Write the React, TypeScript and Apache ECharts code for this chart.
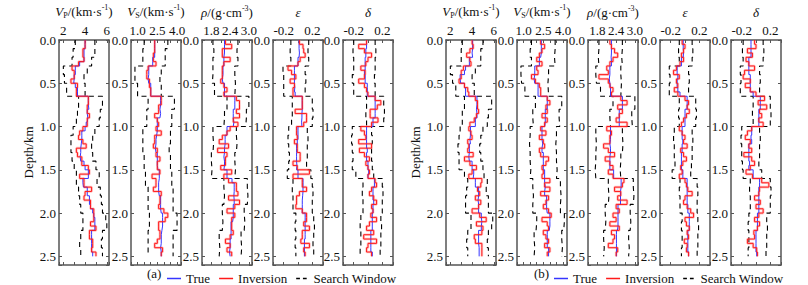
import React, { useEffect, useRef } from 'react';
import * as echarts from 'echarts';

// Layer boundaries (km)
const DEPTH = [0,0.05,0.1,0.15,0.2,0.25,0.3,0.35,0.4,0.45,0.5,0.55,0.6,0.65,0.7,0.75,0.8,0.85,0.9,0.95,1,1.05,1.1,1.15,1.2,1.25,1.3,1.35,1.4,1.45,1.5,1.55,1.6,1.65,1.7,1.75,1.8,1.85,1.9,1.95,2,2.05,2.1,2.15,2.2,2.25,2.3,2.35,2.4,2.45,2.5];
const WIN_DEPTH = [0,0.1,0.2,0.3,0.4,0.5,0.65,0.8,0.9,1.0,1.1,1.2,1.3,1.4,1.5,1.6,1.7,1.8,1.9,2.0,2.1,2.2,2.3,2.4,2.5];

// ---- (a) ----
const VP_A_TRUE = [4.0,4.0,3.9,3.9,3.9,3.5,3.1,3.1,3.0,2.95,3.1,3.3,3.3,4.3,4.3,4.35,4.2,4.25,4.2,4.1,4.0,3.7,3.7,3.65,3.6,3.6,3.55,3.6,3.9,4.0,4.3,4.3,3.8,3.85,4.2,4.2,4.4,4.4,4.5,4.7,4.8,4.9,4.9,4.9,4.6,4.6,4.6,4.6,4.6,4.7];
const VP_A_INV = [4.0,4.0,3.8,3.8,3.9,3.4,2.8,3.0,3.0,2.7,3.3,3.2,3.2,4.3,4.3,4.2,4.2,4.4,4.2,4.2,3.8,3.5,3.4,3.8,4.1,3.2,3.3,3.7,3.7,4.3,4.4,3.5,3.9,3.9,4.6,4.0,3.9,4.5,4.5,4.8,4.8,4.8,4.5,5.0,4.4,4.4,4.7,4.7,4.6,5.0];
const VP_A_LO = [3.1,2.9,2.8,2.0,2.1,2.3,3.4,3.3,3.2,2.9,2.7,2.7,2.8,3.0,3.2,3.2,3.4,3.5,3.6,3.8,3.8,3.6,3.5,3.6];
const VP_A_HI = [4.9,4.9,4.6,4.2,3.9,4.0,5.6,5.4,5.3,4.9,4.7,4.6,4.7,5.0,5.3,5.1,5.4,5.5,5.6,5.9,6.0,5.6,5.5,5.6];

const VS_A_TRUE = [2.3,2.3,2.3,2.3,2.15,2.15,1.85,1.85,1.8,1.85,2.0,2.0,2.0,2.75,2.75,2.7,2.75,2.7,2.5,2.5,2.5,2.45,2.4,2.4,2.35,2.4,2.5,2.5,2.5,2.55,2.65,2.65,2.6,2.6,2.6,2.65,2.75,2.75,2.75,2.8,2.9,2.9,2.9,2.85,2.8,2.8,2.8,2.75,2.8,2.8];
const VS_A_INV = [2.3,2.3,2.3,2.2,2.2,2.4,1.8,1.7,1.7,1.9,1.9,2.0,2.0,2.8,2.8,2.6,2.6,2.3,2.5,2.6,2.4,2.8,2.3,2.3,2.2,2.5,2.4,2.7,2.5,2.5,2.7,2.1,2.4,2.4,2.2,2.8,2.7,2.7,2.6,3.0,3.3,3.1,2.6,2.6,2.7,2.7,2.5,2.3,2.9,2.8];
const VS_A_LO = [1.5,1.4,1.4,0.8,0.8,1.0,1.8,1.7,1.7,1.4,1.4,1.4,1.5,1.5,1.6,1.6,1.8,1.8,1.8,1.9,1.9,1.8,1.8,1.8];
const VS_A_HI = [3.3,3.1,3.1,2.8,2.7,2.8,3.8,3.6,3.6,3.5,3.5,3.4,3.5,3.5,3.6,3.6,3.7,3.7,3.7,4.0,4.0,3.7,3.7,3.7];

const RHO_A_TRUE = [2.22,2.22,2.22,2.2,2.2,2.2,2.17,2.17,2.15,2.17,2.22,2.22,2.22,2.55,2.55,2.55,2.5,2.5,2.52,2.5,2.3,2.3,2.24,2.24,2.22,2.22,2.2,2.22,2.22,2.2,2.3,2.3,2.46,2.53,2.53,2.52,2.53,2.53,2.5,2.5,2.5,2.48,2.43,2.43,2.43,2.43,2.4,2.4,2.38,2.4];
const RHO_A_INV = [2.25,2.45,2.15,2.15,2.4,2.2,2.15,2.15,2.15,2.1,2.2,2.3,2.2,2.6,2.7,2.7,2.6,2.7,2.5,2.65,2.4,2.3,2.15,2.05,2.35,2.0,2.3,2.25,2.25,2.1,2.45,2.2,2.35,2.6,2.6,2.65,2.35,2.7,2.55,2.3,2.55,2.45,2.45,2.45,2.5,2.4,2.25,2.4,2.3,2.45];
const RHO_A_LO = [1.85,1.88,1.85,1.85,1.83,1.9,2.3,2.22,2.2,1.85,1.87,1.85,1.8,1.82,1.8,2.2,2.22,2.2,2.15,2.17,2.15,2.05,2.07,2.05];
const RHO_A_HI = [2.65,2.62,2.65,2.55,2.57,2.55,3.0,2.92,2.9,2.6,2.62,2.6,2.55,2.57,2.55,2.95,2.97,2.95,2.85,2.87,2.85,2.75,2.77,2.75];

const EPS_A_TRUE = [0.015,0.015,0.02,0.015,0,0,-0.05,-0.05,-0.05,-0.05,-0.045,-0.05,-0.04,0.06,0.06,0.06,0.055,0.055,0.05,0.055,0,0,0,-0.01,-0.02,-0.02,-0.02,-0.02,-0.015,-0.02,0,0,0.07,0.07,0.07,0.065,0.06,0.06,0.06,0.06,0.1,0.1,0.1,0.1,0.1,0.1,0.09,0.09,0.09,0.09];
const EPS_A_INV = [0.02,0.07,0.08,0.1,0.03,0,-0.14,-0.09,-0.03,-0.11,-0.05,-0.07,-0.07,0.06,0.06,0.06,-0.04,0.12,0.12,0.08,-0.02,-0.02,-0.01,-0.05,-0.01,-0.01,0.03,0.03,-0.07,-0.01,0.16,-0.07,0.06,0.06,0.12,0.02,-0.02,-0.02,-0.03,0.06,0.12,0.12,0.08,0.16,0.06,0.06,0.04,0.16,0.08,0.1];
const EPS_A_LO = [-0.1,-0.11,-0.1,-0.21,-0.2,-0.2,-0.08,-0.08,-0.09,-0.13,-0.14,-0.13,-0.12,-0.13,-0.15,-0.07,-0.08,-0.07,-0.07,-0.03,-0.04,-0.03,-0.04,-0.03];
const EPS_A_HI = [0.15,0.14,0.15,0.1,0.11,0.1,0.2,0.21,0.2,0.13,0.14,0.13,0.13,0.12,0.18,0.2,0.21,0.2,0.2,0.22,0.23,0.22,0.21,0.22];

const DEL_A_TRUE = [-0.02,-0.02,-0.03,-0.03,-0.04,-0.04,-0.04,-0.05,-0.04,-0.04,-0.01,-0.01,-0.01,0.1,0.1,0.1,0.1,0.1,0.07,0.07,-0.02,-0.02,-0.02,-0.02,-0.02,-0.01,-0.02,-0.02,0,0,0.01,0,0.09,0.09,0.07,0.07,0.07,0.08,0.07,0.07,0.06,0.06,0.06,0.06,0.04,0.04,0.04,0.04,0.04,0.06];
const DEL_A_INV = [-0.02,-0.13,-0.05,0.05,0.0,-0.03,-0.1,-0.04,-0.05,-0.13,-0.05,-0.02,0.0,0.1,0.18,0.13,0.03,0.03,0.14,0.05,-0.1,-0.05,-0.03,-0.13,0.05,-0.12,-0.05,0.02,-0.03,0.0,0.02,0.0,0.1,0.12,0.05,0.02,0.08,0.12,0.05,0.07,0.04,0.12,0.02,-0.02,0.08,-0.06,0.12,0.0,-0.02,0.05];
const DEL_A_LO = [-0.2,-0.21,-0.2,-0.2,-0.22,-0.2,-0.02,-0.03,-0.02,-0.22,-0.23,-0.22,-0.21,-0.22,-0.17,-0.07,-0.08,-0.07,-0.07,-0.1,-0.11,-0.1,-0.1,-0.11];
const DEL_A_HI = [0.1,0.11,0.1,0.1,0.09,0.1,0.22,0.23,0.22,0.05,0.06,0.05,0.05,0.06,0.08,0.2,0.21,0.2,0.2,0.18,0.19,0.18,0.18,0.17];

// ---- (b) ----
const VP_B_TRUE = [4.05,4.05,4.0,4.05,3.75,3.75,3.4,3.3,2.9,2.95,3.3,3.4,3.4,4.45,4.45,4.4,4.45,4.45,4.3,4.3,3.85,3.85,3.8,3.85,3.75,3.75,3.7,3.75,4.0,4.0,4.15,4.1,4.3,4.3,4.6,4.6,4.55,4.6,4.6,4.6,4.85,4.9,4.85,4.85,4.6,4.6,4.6,4.65,4.65,4.65];
const VP_B_INV = [4.0,4.1,3.8,3.5,3.8,3.9,3.2,3.0,3.0,2.8,3.3,3.6,3.7,4.3,4.5,4.5,4.6,4.4,4.2,3.8,3.7,3.9,4.0,3.6,3.7,3.6,4.1,3.3,3.8,4.4,4.0,3.7,4.9,4.8,4.5,4.7,4.3,4.8,4.6,4.0,4.7,5.3,4.4,5.0,4.9,4.2,4.3,4.9,4.9,4.9];
const VP_B_LO = [3.1,3.0,3.0,2.0,2.2,2.5,3.3,3.1,3.1,2.9,2.8,2.7,2.8,2.8,3.3,3.6,3.5,3.4,3.4,3.9,3.9,3.6,3.5,3.6];
const VP_B_HI = [5.0,4.8,4.8,4.3,4.0,4.2,5.8,5.5,5.4,5.0,4.8,4.7,4.8,5.0,5.1,5.4,5.3,5.5,5.5,5.9,5.8,5.5,5.4,5.5];

const VS_B_TRUE = [2.35,2.35,2.35,2.3,2.2,2.2,1.85,1.85,1.8,1.85,2.1,2.1,2.1,2.8,2.8,2.8,2.65,2.65,2.65,2.6,2.4,2.4,2.4,2.45,2.4,2.4,2.5,2.5,2.5,2.5,2.6,2.6,2.6,2.65,2.6,2.6,2.75,2.75,2.75,2.8,3.0,3.0,3.0,2.95,2.8,2.8,2.8,2.8,2.9,2.9];
const VS_B_INV = [2.3,2.6,2.4,2.2,2.0,2.4,2.0,2.1,1.6,1.9,2.2,2.3,2.3,2.8,3.0,2.7,2.8,2.4,2.8,2.6,2.3,2.7,2.2,2.5,2.6,2.2,2.3,2.9,2.7,2.4,2.5,2.4,3.0,2.6,3.0,2.3,2.9,2.7,2.5,2.9,3.1,2.4,2.8,2.9,2.5,2.7,2.9,2.6,3.0,2.8];
const VS_B_LO = [1.6,1.5,1.6,0.8,0.85,1.1,1.9,1.7,1.75,1.5,1.45,1.5,1.5,1.55,1.5,1.7,1.75,1.7,1.7,2.0,1.95,1.8,1.85,1.8];
const VS_B_HI = [3.4,3.35,3.4,2.9,2.85,2.9,3.9,3.7,3.75,3.5,3.45,3.5,3.5,3.55,3.5,3.8,3.85,3.8,3.8,4.1,4.05,3.9,3.95,3.9];

const RHO_B_TRUE = [2.25,2.25,2.25,2.24,2.25,2.25,2.2,2.2,2.18,2.2,2.22,2.22,2.22,2.6,2.6,2.6,2.5,2.5,2.5,2.5,2.22,2.22,2.22,2.2,2.22,2.22,2.2,2.2,2.2,2.2,2.32,2.32,2.56,2.56,2.54,2.54,2.54,2.54,2.46,2.46,2.46,2.46,2.46,2.44,2.41,2.41,2.41,2.41,2.41,2.41];
const RHO_B_INV = [2.2,2.25,2.35,2.45,2.3,2.2,2.1,2.15,1.85,2.15,2.2,2.3,2.25,2.55,2.75,2.45,2.6,2.5,2.4,2.75,2.1,2.25,2.2,2.2,2.0,2.15,2.35,2.05,2.2,2.3,2.15,2.3,2.65,2.6,2.35,2.55,2.45,2.75,2.4,2.5,2.3,2.4,2.2,2.5,2.25,2.35,2.3,2.15,2.45,2.4];
const RHO_B_LO = [1.85,1.83,1.85,1.75,1.77,1.9,2.3,2.2,2.22,1.75,1.77,1.75,1.75,1.73,1.75,2.15,2.17,2.15,2.05,2.07,2.05,2.0,2.02,2.0];
const RHO_B_HI = [2.6,2.58,2.6,2.55,2.57,2.55,3.0,2.9,2.92,2.6,2.62,2.6,2.55,2.53,2.55,2.95,2.97,2.95,2.85,2.87,2.85,2.8,2.82,2.8];

const EPS_B_TRUE = [-0.025,-0.025,-0.02,-0.025,-0.05,-0.05,-0.11,-0.11,-0.1,-0.11,-0.11,-0.1,-0.07,0.03,0.03,0.03,0,0,0,0,-0.04,-0.04,-0.04,-0.03,-0.04,-0.04,-0.05,-0.05,-0.05,-0.05,-0.03,-0.03,0.03,0.03,0.03,0.03,0.03,0.03,0.04,0.04,0.06,0.06,0.06,0.06,0.04,0.04,0.04,0.04,0.04,0.05];
const EPS_B_INV = [-0.04,0.0,-0.02,-0.05,-0.02,-0.07,-0.12,-0.16,-0.08,-0.12,-0.1,-0.15,-0.1,0.0,0.05,0.03,0.06,0.02,-0.02,-0.05,-0.08,-0.04,0.0,-0.02,0.03,-0.06,-0.02,0.02,-0.03,-0.06,-0.04,-0.08,0.0,0.02,0.04,0.1,0.0,-0.02,0.03,0.08,0.12,0.0,0.02,0.06,0.03,0.05,-0.01,0.03,0.02,0.05];
const EPS_B_LO = [-0.08,-0.09,-0.08,-0.22,-0.21,-0.22,-0.08,-0.09,-0.08,-0.15,-0.16,-0.15,-0.15,-0.14,-0.18,-0.07,-0.08,-0.07,-0.07,-0.04,-0.05,-0.04,-0.04,-0.05];
const EPS_B_HI = [0.1,0.11,0.1,0.05,0.06,0.05,0.15,0.16,0.15,0.1,0.11,0.1,0.1,0.09,0.08,0.17,0.18,0.17,0.17,0.18,0.19,0.18,0.18,0.17];

const DEL_B_TRUE = [-0.07,-0.07,-0.07,-0.07,-0.1,-0.1,-0.1,-0.1,-0.08,-0.08,-0.08,-0.08,-0.04,0.06,0.06,0.06,0.04,0.04,0.04,0.04,-0.06,-0.06,-0.07,-0.06,-0.1,-0.1,-0.1,-0.1,-0.09,-0.1,-0.04,-0.04,0.05,0.05,0.04,0.04,0.04,0.04,0.04,0.04,0.02,0.02,0.02,0.02,0,0,0,0,0,0.01];
const DEL_B_INV = [-0.02,0.0,-0.12,-0.05,-0.14,-0.1,-0.02,-0.16,-0.18,-0.08,-0.15,-0.08,0.0,0.12,0.03,0.15,0.05,0.08,0.04,0.1,-0.06,-0.12,-0.15,-0.08,-0.1,-0.06,-0.17,-0.06,-0.02,-0.08,-0.14,-0.05,0.08,0.18,0.05,0.04,-0.02,0.06,0.0,0.1,0.04,-0.02,0.05,0.02,-0.03,-0.02,-0.12,-0.04,0.01,0.02];
const DEL_B_LO = [-0.18,-0.19,-0.18,-0.22,-0.21,-0.22,-0.04,-0.05,-0.04,-0.2,-0.21,-0.2,-0.2,-0.19,-0.18,-0.08,-0.09,-0.08,-0.08,-0.1,-0.11,-0.1,-0.1,-0.11];
const DEL_B_HI = [0.1,0.11,0.1,0.05,0.06,0.05,0.2,0.21,0.2,0.05,0.06,0.05,0.05,0.04,0.08,0.2,0.21,0.2,0.2,0.15,0.16,0.15,0.15,0.14];

const Y_LABELS = [0, 0.5, 1.0, 1.5, 2.0, 2.5];

const FONT = '"Liberation Serif", "Times New Roman", serif';
const BLUE = '#3535ff';
const RED = '#ff1a1a';

const AXES: any = {
  vp: { min: 1.6, max: 6.2, splitNumber: 4, labels: [2, 4, 6], digits: 0, title: '{i|V}{sub|P}{n|/(km·s}{sup|-1}{n|)}' },
  vs: { min: 0.5, max: 4.3, interval: 0.5, labels: [1.0, 2.5, 4.0], digits: 1, title: '{i|V}{sub|S}{n|/(km·s}{sup|-1}{n|)}' },
  rho: { min: 1.5, max: 3.1, interval: 0.3, labels: [1.8, 2.4, 3.0], digits: 1, title: '{i|ρ}{n|/(g·cm}{sup|-3}{n|)}' },
  eps: { min: -0.35, max: 0.35, splitNumber: 4, labels: [-0.2, 0.2], digits: 1, title: '{i|ε}' },
  del: { min: -0.35, max: 0.35, splitNumber: 4, labels: [-0.2, 0.2], digits: 1, title: '{i|δ}' },
};

const PANELS = [
  { axis: 'vp', t: VP_A_TRUE, inv: VP_A_INV, lo: VP_A_LO, hi: VP_A_HI },
  { axis: 'vs', t: VS_A_TRUE, inv: VS_A_INV, lo: VS_A_LO, hi: VS_A_HI },
  { axis: 'rho', t: RHO_A_TRUE, inv: RHO_A_INV, lo: RHO_A_LO, hi: RHO_A_HI },
  { axis: 'eps', t: EPS_A_TRUE, inv: EPS_A_INV, lo: EPS_A_LO, hi: EPS_A_HI },
  { axis: 'del', t: DEL_A_TRUE, inv: DEL_A_INV, lo: DEL_A_LO, hi: DEL_A_HI },
  { axis: 'vp', t: VP_B_TRUE, inv: VP_B_INV, lo: VP_B_LO, hi: VP_B_HI },
  { axis: 'vs', t: VS_B_TRUE, inv: VS_B_INV, lo: VS_B_LO, hi: VS_B_HI },
  { axis: 'rho', t: RHO_B_TRUE, inv: RHO_B_INV, lo: RHO_B_LO, hi: RHO_B_HI },
  { axis: 'eps', t: EPS_B_TRUE, inv: EPS_B_INV, lo: EPS_B_LO, hi: EPS_B_HI },
  { axis: 'del', t: DEL_B_TRUE, inv: DEL_B_INV, lo: DEL_B_LO, hi: DEL_B_HI },
];

const PANEL_LEFT = [59, 131, 202, 273, 343, 446, 517, 588, 660, 731];
const GRID_TOP = 40;
const GRID_H = 225;
const GRID_W = 50;

function steps(bounds: number[], vals: number[]) {
  const pts: number[][] = [];
  for (let i = 0; i < vals.length; i++) {
    pts.push([vals[i], bounds[i]]);
    pts.push([vals[i], bounds[i + 1]]);
  }
  return pts;
}

const AXIS_LINE = { show: true, onZero: false, lineStyle: { color: '#555', width: 1.5 } };
const TICK = { show: true, inside: true, length: 3, lineStyle: { color: '#555', width: 1 } };

function buildOption() {
  const grid: any[] = [];
  const xAxis: any[] = [];
  const yAxis: any[] = [];
  const series: any[] = [];
  const rich = {
    i: { fontFamily: FONT, fontStyle: 'italic', fontSize: 13, color: '#111', lineHeight: 16, verticalAlign: 'middle' },
    n: { fontFamily: FONT, fontSize: 13, color: '#111', lineHeight: 16, verticalAlign: 'middle' },
    sub: { fontFamily: FONT, fontSize: 8, color: '#111', lineHeight: 16, verticalAlign: 'bottom' },
    sup: { fontFamily: FONT, fontSize: 8, color: '#111', lineHeight: 16, verticalAlign: 'top' },
  };
  PANELS.forEach((p, k) => {
    const ax = AXES[p.axis];
    grid.push({ left: PANEL_LEFT[k], top: GRID_TOP, width: GRID_W, height: GRID_H, containLabel: false, outerBoundsMode: 'none' });
    const base: any = { type: 'value', gridIndex: k, min: ax.min, max: ax.max, splitLine: { show: false } };
    if (ax.interval != null) base.interval = ax.interval; else base.splitNumber = ax.splitNumber;
    xAxis.push({
      ...base, position: 'top',
      axisLine: AXIS_LINE, axisTick: TICK,
      axisLabel: {
        show: true, margin: 3, fontFamily: FONT, fontSize: 13, color: '#111',
        formatter: (v: number) => (ax.labels.some((t: number) => Math.abs(t - v) < 1e-6) ? v.toFixed(ax.digits) : ''),
      },
      name: ax.title, nameLocation: 'middle', nameGap: 17,
      nameTextStyle: { rich, verticalAlign: 'bottom' },
    });
    xAxis.push({ ...base, position: 'bottom', axisLine: AXIS_LINE, axisTick: TICK, axisLabel: { show: false } });
    const ybase: any = { type: 'value', gridIndex: k, min: 0, max: 2.6, interval: 0.5, inverse: true, splitLine: { show: false } };
    yAxis.push({
      ...ybase, position: 'left', axisLine: AXIS_LINE, axisTick: TICK,
      axisLabel: {
        show: true, margin: 3, fontFamily: FONT, fontSize: 13, color: '#111',
        formatter: (v: number) => (Y_LABELS.some((t) => Math.abs(t - v) < 1e-6) ? v.toFixed(1) : ''),
      },
      ...(k % 5 === 0
        ? { name: 'Depth/km', nameLocation: 'middle', nameRotate: 90, nameGap: 24, nameTextStyle: { fontFamily: FONT, fontSize: 13, color: '#111' } }
        : {}),
    });
    yAxis.push({ ...ybase, position: 'right', axisLine: AXIS_LINE, axisTick: TICK, axisLabel: { show: false } });

    const xi = 2 * k;
    const common = { type: 'line', xAxisIndex: xi, yAxisIndex: xi, symbol: 'none', showSymbol: false, silent: true, animation: false };
    series.push({ ...common, name: 'Search Window', data: steps(WIN_DEPTH, p.lo), color: '#000', lineStyle: { color: '#000', width: 1.1, type: [5, 4] }, z: 1 });
    series.push({ ...common, name: 'Search Window', data: steps(WIN_DEPTH, p.hi), color: '#000', lineStyle: { color: '#000', width: 1.1, type: [5, 4] }, z: 1 });
    series.push({ ...common, name: 'inv-shadow', data: steps(DEPTH, p.inv), color: 'rgba(255,110,110,0.4)', lineStyle: { color: 'rgba(255,110,110,0.4)', width: 2.6 }, z: 2 });
    series.push({ ...common, name: 'True', data: steps(DEPTH, p.t), color: BLUE, lineStyle: { color: BLUE, width: 1 }, z: 3 });
    series.push({ ...common, name: 'Inversion', data: steps(DEPTH, p.inv), color: RED, lineStyle: { color: RED, width: 1 }, z: 4 });
  });

  const legendData = [
    { name: 'True', icon: 'rect', itemStyle: { color: BLUE } },
    { name: 'Inversion', icon: 'rect', itemStyle: { color: RED } },
    { name: 'Search Window', icon: 'path://M0,0h5v2h-5z M9,0h5v2h-5z', itemStyle: { color: '#000' } },
  ];
  const legendBase = {
    top: 267, orient: 'horizontal', itemWidth: 14, itemHeight: 1.5, itemGap: 9, selectedMode: false,
    data: legendData, textStyle: { fontFamily: FONT, fontSize: 13, color: '#111' },
  };

  return {
    animation: false,
    backgroundColor: '#fff',
    grid, xAxis, yAxis, series,
    legend: [
      { ...legendBase, left: 162 },
      { ...legendBase, left: 549 },
    ],
    graphic: [
      { type: 'text', left: 147, top: 267, style: { text: '(a)', font: `13px ${FONT}`, fill: '#111' } },
      { type: 'text', left: 534, top: 267, style: { text: '(b)', font: `13px ${FONT}`, fill: '#111' } },
    ],
  };
}

export default function App() {
  const ref = useRef<HTMLDivElement>(null);
  useEffect(() => {
    if (!ref.current) return;
    const chart = echarts.init(ref.current, null, { renderer: 'svg' });
    chart.setOption(buildOption() as any);
    return () => chart.dispose();
  }, []);
  return <div ref={ref} style={{ position: 'absolute', left: 0, top: 0, width: 808, height: 285, background: '#fff' }} />;
}
